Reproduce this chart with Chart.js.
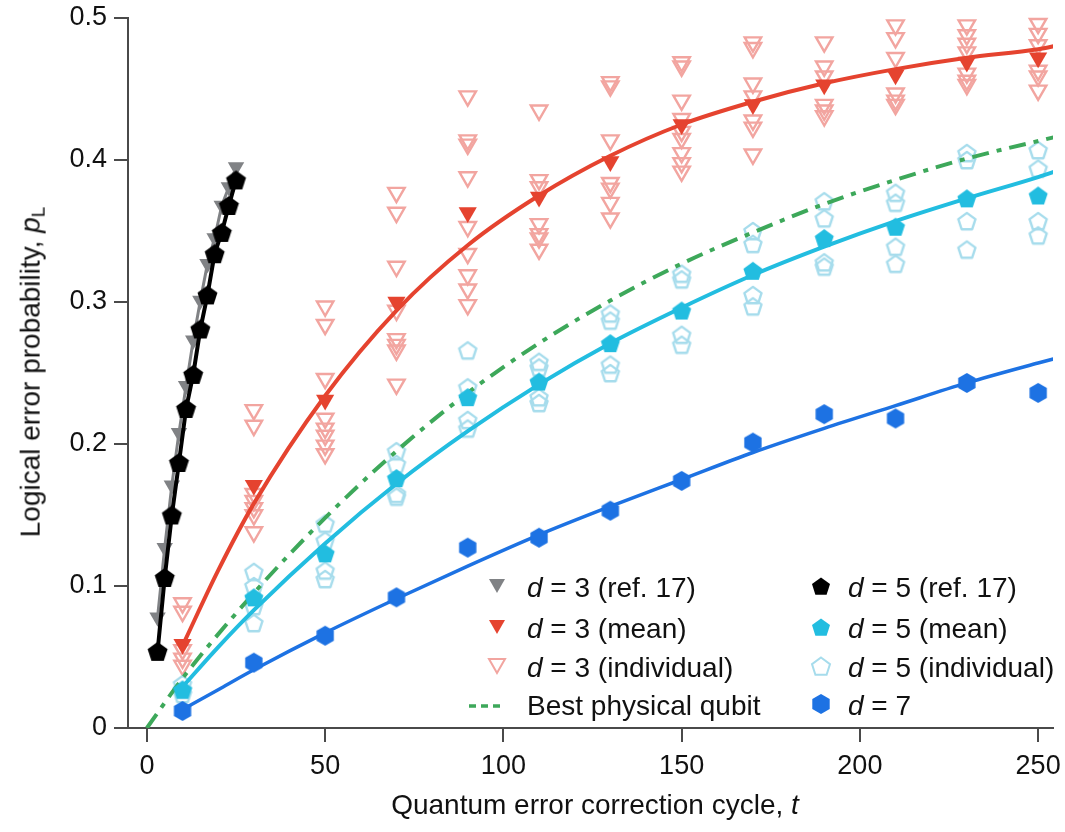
<!DOCTYPE html>
<html>
<head>
<meta charset="utf-8">
<script src="https://cdn.jsdelivr.net/npm/chart.js@4/dist/chart.umd.min.js"></script>
<style>
    html, body { margin: 0; padding: 0; background: #fff; }
    #wrap { position: relative; width: 1065px; height: 832px; font-family: "Liberation Sans", Arial, sans-serif; color: #111; }
    #chart { position: absolute; left: 0; top: 0; }
    .ytitle { position: absolute; left: 32px; top: 372px; transform: translate(-50%, -50%) rotate(-90deg); white-space: nowrap; font-size: 28px; }
    .xtitle { position: absolute; left: 595px; top: 805px; transform: translate(-50%, -50%); white-space: nowrap; font-size: 28px; }
    .ytitle sub { font-size: 0.68em; vertical-align: -0.25em; font-style: normal; }
    .leg-icon { position: absolute; transform: translate(-50%, -50%); }
    .leg-text { position: absolute; transform: translateY(-50%); white-space: nowrap; font-size: 28px; }
</style>
</head>
<body>
<div id="wrap">
    <canvas id="chart" width="1065" height="832"></canvas>
    <div class="ytitle">Logical error probability, <i>p</i><sub>L</sub></div>
    <div class="xtitle">Quantum error correction cycle, <i>t</i></div>
    <div id="legend"></div>
</div>
<script>
// Mean cycles (t) for the new experiment
const cycles = [10, 30, 50, 70, 90, 110, 130, 150, 170, 190, 210, 230, 250];
const d3Mean = [0.059, 0.171, 0.231, 0.300, 0.363, 0.374, 0.399, 0.425, 0.439, 0.453, 0.460, 0.469, 0.472];
const d5Mean = [0.027, 0.092, 0.123, 0.176, 0.233, 0.244, 0.271, 0.294, 0.322, 0.345, 0.353, 0.373, 0.375];
const d7Mean = [0.012, 0.046, 0.065, 0.092, 0.127, 0.134, 0.153, 0.174, 0.201, 0.221, 0.218, 0.243, 0.236];

// Individual runs, one list per cycle
const d3Individual = [
    [0.088, 0.082, 0.055, 0.049, 0.044],
    [0.224, 0.213, 0.165, 0.160, 0.155, 0.150, 0.138],
    [0.297, 0.284, 0.246, 0.218, 0.211, 0.206, 0.199, 0.193],
    [0.377, 0.363, 0.325, 0.294, 0.274, 0.270, 0.266, 0.242],
    [0.445, 0.414, 0.411, 0.388, 0.353, 0.334, 0.319, 0.309, 0.298],
    [0.435, 0.386, 0.381, 0.355, 0.348, 0.345, 0.337],
    [0.455, 0.452, 0.414, 0.384, 0.380, 0.370, 0.359],
    [0.469, 0.466, 0.442, 0.429, 0.420, 0.415, 0.405, 0.398, 0.392],
    [0.483, 0.479, 0.454, 0.445, 0.428, 0.423, 0.404],
    [0.483, 0.466, 0.459, 0.439, 0.435, 0.431],
    [0.495, 0.486, 0.472, 0.447, 0.442, 0.439],
    [0.495, 0.488, 0.482, 0.476, 0.461, 0.456, 0.453],
    [0.496, 0.489, 0.481, 0.463, 0.459, 0.449]
];
const d5Individual = [
    [0.031, 0.027, 0.024],
    [0.110, 0.100, 0.086, 0.074],
    [0.144, 0.132, 0.111, 0.105],
    [0.195, 0.186, 0.165, 0.163],
    [0.266, 0.240, 0.217, 0.211],
    [0.258, 0.254, 0.233, 0.229],
    [0.292, 0.287, 0.256, 0.250],
    [0.320, 0.316, 0.277, 0.270],
    [0.350, 0.341, 0.305, 0.297],
    [0.371, 0.359, 0.328, 0.325],
    [0.377, 0.370, 0.339, 0.327],
    [0.405, 0.400, 0.357, 0.337],
    [0.407, 0.394, 0.357, 0.347]
];

// ref. 17 data
const refCycles = [3, 5, 7, 9, 11, 13, 15, 17, 19, 21, 23, 25];
const d3Ref = [0.078, 0.127, 0.171, 0.208, 0.241, 0.273, 0.301, 0.327, 0.345, 0.368, 0.381, 0.395];
const d5Ref = [0.054, 0.106, 0.150, 0.187, 0.225, 0.249, 0.281, 0.305, 0.334, 0.349, 0.368, 0.386];

// Fit curves
const fitCycles = [10, 20, 30, 50, 70, 90, 110, 130, 150, 170, 190, 210, 230, 250, 256];
const d3Fit = [0.058, 0.111, 0.158, 0.234, 0.294, 0.340, 0.375, 0.403, 0.425, 0.441, 0.454, 0.464, 0.472, 0.478, 0.481];
const d5Fit = [0.029, 0.057, 0.083, 0.130, 0.172, 0.209, 0.242, 0.271, 0.296, 0.319, 0.339, 0.357, 0.373, 0.388, 0.393];
const d7Fit = [0.013, 0.027, 0.041, 0.067, 0.091, 0.114, 0.136, 0.156, 0.175, 0.194, 0.211, 0.227, 0.243, 0.257, 0.261];
const physCycles = [0, 10, 30, 50, 70, 90, 110, 130, 150, 170, 190, 210, 230, 256];
const physFit = [0, 0.035, 0.095, 0.148, 0.195, 0.236, 0.271, 0.301, 0.327, 0.349, 0.369, 0.386, 0.401, 0.417];

const xTicks = [0, 50, 100, 150, 200, 250];
const yTicks = [0, 0.1, 0.2, 0.3, 0.4, 0.5];

// Colours
const GRAY = "#808285";
const RED = "#e5432f";
const RED_LIGHT = "#f2a5a0";
const CYAN = "#22bde0";
const CYAN_LIGHT = "#a6dcec";
const BLUE = "#1d72e3";
const GREEN = "#3da85a";
const FONT = "'Liberation Sans', Arial, sans-serif";

// polygon markers as small canvases (Chart.js has no pentagon/hexagon)
function polyPoints(sides, r, cx, cy, startDeg) {
    const pts = [];
    for (let i = 0; i < sides; i++) {
        const a = (startDeg + i * 360 / sides) * Math.PI / 180;
        pts.push([cx + r * Math.cos(a), cy + r * Math.sin(a)]);
    }
    return pts;
}
function makeMarker(sides, r, fill, stroke, lw) {
    const size = Math.ceil(2 * r + 6);
    const c = document.createElement("canvas");
    c.width = size; c.height = size;
    const g = c.getContext("2d");
    const pts = polyPoints(sides, r, size / 2, size / 2 + (sides === 5 ? r * 0.1 : 0), -90);
    g.beginPath();
    pts.forEach((p, i) => i ? g.lineTo(p[0], p[1]) : g.moveTo(p[0], p[1]));
    g.closePath();
    if (fill) { g.fillStyle = fill; g.fill(); }
    if (stroke) { g.strokeStyle = stroke; g.lineWidth = lw; g.lineJoin = "round"; g.stroke(); }
    return c;
}
const pentBlack = makeMarker(5, 10.5, "#000", null, 0);
const pentCyan = makeMarker(5, 10, CYAN, null, 0);
const pentHollow = makeMarker(5, 9, null, CYAN_LIGHT, 2.4);
const hexBlue = makeMarker(6, 10, BLUE, null, 0);

function toPoints(xs, ys) { return xs.map((x, i) => ({ x: x, y: ys[i] })); }
function flatten(groups) {
    const out = [];
    groups.forEach((g, i) => g.forEach(v => out.push({ x: cycles[i], y: v })));
    return out;
}

const datasets = [
    // individual runs (drawn first, at the bottom)
    { label: "d3 individual", data: flatten(d3Individual), order: 10, clip: false,
      pointStyle: "triangle", rotation: 180, radius: 9.5, pointBackgroundColor: "rgba(0,0,0,0)",
      pointBorderColor: RED_LIGHT, pointBorderWidth: 2.4, showLine: false },
    { label: "d5 individual", data: flatten(d5Individual), order: 9, clip: false,
      pointStyle: pentHollow, showLine: false },
    // fit lines
    { label: "Best physical qubit", data: toPoints(physCycles, physFit), order: 8, showLine: true,
      borderColor: GREEN, borderWidth: 4, borderDash: [17, 8, 5, 8], pointRadius: 0, cubicInterpolationMode: "monotone" },
    { label: "d3 fit", data: toPoints(fitCycles, d3Fit), order: 7, showLine: true,
      borderColor: RED, borderWidth: 4, pointRadius: 0, cubicInterpolationMode: "monotone" },
    { label: "d5 fit", data: toPoints(fitCycles, d5Fit), order: 7, showLine: true,
      borderColor: CYAN, borderWidth: 4, pointRadius: 0, cubicInterpolationMode: "monotone" },
    { label: "d7 fit", data: toPoints(fitCycles, d7Fit), order: 7, showLine: true,
      borderColor: BLUE, borderWidth: 3.5, pointRadius: 0, cubicInterpolationMode: "monotone" },
    // ref. 17
    { label: "d3 ref17", data: toPoints(refCycles, d3Ref), order: 6, showLine: true, borderColor: GRAY, borderWidth: 3,
      pointStyle: "triangle", rotation: 180, radius: 9.5, pointBackgroundColor: GRAY, pointBorderWidth: 0 },
    { label: "d5 ref17", data: toPoints(refCycles, d5Ref), order: 5, showLine: true, borderColor: "#000", borderWidth: 4,
      pointStyle: pentBlack },
    // means
    { label: "d3 mean", data: toPoints(cycles, d3Mean), order: 2, showLine: false, clip: false,
      pointStyle: "triangle", rotation: 180, radius: 10.5, pointBackgroundColor: RED, pointBorderWidth: 0 },
    { label: "d5 mean", data: toPoints(cycles, d5Mean), order: 2, showLine: false, clip: false,
      pointStyle: pentCyan },
    { label: "d7", data: toPoints(cycles, d7Mean), order: 2, showLine: false, clip: false,
      pointStyle: hexBlue }
];

// keep the plot box fixed: no extra room reserved for overhanging tick labels
function fixPadding(s) {
    s.paddingLeft = 0; s.paddingRight = 0; s.paddingTop = 0; s.paddingBottom = 0;
}

const axisColor = "#4a4a4a";
new Chart(document.getElementById("chart").getContext("2d"), {
    type: "scatter",
    data: { datasets: datasets },
    options: {
        responsive: false,
        animation: false,
        devicePixelRatio: 1,
        layout: { padding: { top: 18, right: 0, left: 0, bottom: 0 } },
        plugins: { legend: { display: false }, tooltip: { enabled: false } },
        scales: {
            x: {
                type: "linear", min: -5.3, max: 254.2,
                afterBuildTicks: s => { s.ticks = xTicks.map(v => ({ value: v })); },
                afterFit: s => { s.height = 104; fixPadding(s); },
                ticks: { font: { size: 27, family: FONT }, color: "#111", padding: 8, maxRotation: 0, autoSkip: false,
                         callback: v => String(v) },
                grid: { drawOnChartArea: false, drawTicks: true, tickLength: 14, color: axisColor, lineWidth: 2 },
                border: { color: axisColor, width: 2 }
            },
            y: {
                type: "linear", min: 0, max: 0.5,
                afterBuildTicks: s => { s.ticks = yTicks.map(v => ({ value: v })); },
                afterFit: s => { s.width = 128; fixPadding(s); },
                ticks: { font: { size: 27, family: FONT }, color: "#111", padding: 7, autoSkip: false,
                         callback: v => (v === 0 ? "0" : v.toFixed(1)) },
                grid: { drawOnChartArea: false, drawTicks: true, tickLength: 14, color: axisColor, lineWidth: 2 },
                border: { color: axisColor, width: 2 }
            }
        }
    }
});

// Legend (HTML, two columns inside the plot)
const legendRows = [588, 629, 668, 706];
const legendCols = [{ icon: 497, text: 527 }, { icon: 821, text: 848 }];
const tri = (fill, stroke) => `<svg width="22" height="22"><polygon points="3,4 19,4 11,18" fill="${fill}" stroke="${stroke}" stroke-width="${stroke === "none" ? 0 : 2}"/></svg>`;
const polySvg = (sides, fill, stroke) => {
    const pts = polyPoints(sides, sides === 6 ? 10 : 9.5, 12, sides === 5 ? 13 : 12, -90).map(p => p.map(v => v.toFixed(1)).join(",")).join(" ");
    return `<svg width="24" height="24"><polygon points="${pts}" fill="${fill}" stroke="${stroke}" stroke-width="${stroke === "none" ? 0 : 2}"/></svg>`;
};
const legendItems = [
    { col: 0, row: 0, icon: tri(GRAY, "none"), text: "<i>d</i> = 3 (ref. 17)" },
    { col: 0, row: 1, icon: tri(RED, "none"), text: "<i>d</i> = 3 (mean)" },
    { col: 0, row: 2, icon: tri("none", RED_LIGHT), text: "<i>d</i> = 3 (individual)" },
    { col: 0, row: 3, icon: `<svg width="40" height="10"><line x1="2" y1="5" x2="38" y2="5" stroke="${GREEN}" stroke-width="3.5" stroke-dasharray="7,5"/></svg>`, text: "Best physical qubit", shift: -10 },
    { col: 1, row: 0, icon: polySvg(5, "#000", "none"), text: "<i>d</i> = 5 (ref. 17)" },
    { col: 1, row: 1, icon: polySvg(5, CYAN, "none"), text: "<i>d</i> = 5 (mean)" },
    { col: 1, row: 2, icon: polySvg(5, "none", CYAN_LIGHT), text: "<i>d</i> = 5 (individual)" },
    { col: 1, row: 3, icon: polySvg(6, BLUE, "none"), text: "<i>d</i> = 7" }
];
const legendEl = document.getElementById("legend");
legendItems.forEach(item => {
    const c = legendCols[item.col];
    const y = legendRows[item.row];
    const ic = document.createElement("div");
    ic.className = "leg-icon";
    ic.style.left = (c.icon + (item.shift || 0)) + "px";
    ic.style.top = y + "px";
    ic.innerHTML = item.icon;
    const tx = document.createElement("div");
    tx.className = "leg-text";
    tx.style.left = c.text + "px";
    tx.style.top = y + "px";
    tx.innerHTML = item.text;
    legendEl.appendChild(ic);
    legendEl.appendChild(tx);
});
</script>
</body>
</html>
